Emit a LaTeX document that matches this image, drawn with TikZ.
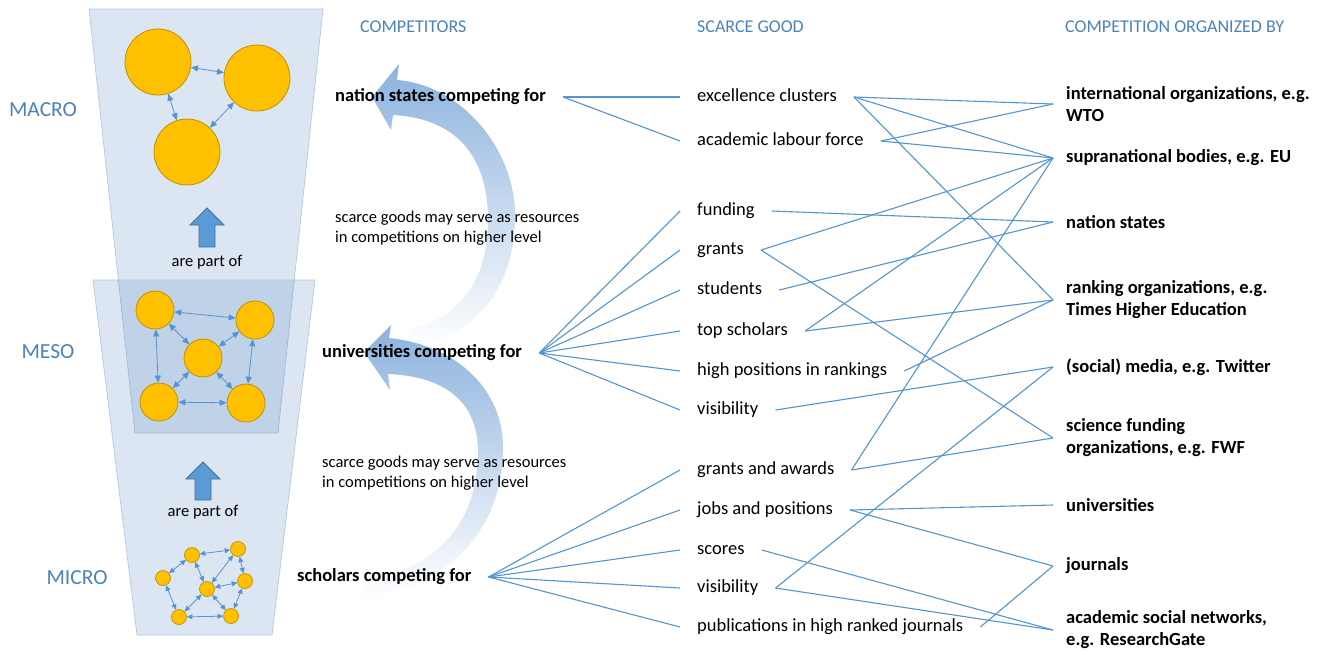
\documentclass[tikz,border=0pt]{standalone}
\usepackage{fontspec}
\setmainfont{Carlito}
\usetikzlibrary{shapes.geometric, arrows.meta}

\definecolor{linkblue}{RGB}{84,148,208}
\definecolor{headblue}{RGB}{75,130,185}
\definecolor{funnelblue}{RGB}{79,129,189}
\definecolor{funneledge}{RGB}{180,200,225}
\definecolor{dotfill}{RGB}{255,192,0}
\definecolor{dotedge}{RGB}{191,144,0}
\definecolor{arrowtop}{RGB}{140,178,222}
\definecolor{arrowmid}{RGB}{188,208,234}
\definecolor{partfill}{RGB}{91,155,213}
\definecolor{partedge}{RGB}{65,113,156}

\tikzstyle{heading} = [text=headblue, font=\fontsize{18}{22}\selectfont, anchor=west, inner sep=0pt]
\tikzstyle{level} = [text=headblue, font=\fontsize{21.5}{26}\selectfont, inner sep=0pt]
\tikzstyle{competitor} = [font=\bfseries\fontsize{18.5}{22}\selectfont, anchor=west, inner xsep=17pt, text height=12pt, text depth=3pt]
\tikzstyle{good} = [font=\fontsize{18.5}{22}\selectfont, anchor=west, inner xsep=17pt, text height=12pt, text depth=3pt]
\tikzstyle{organizer} = [font=\bfseries\fontsize{18.5}{22}\selectfont, anchor=west, inner xsep=13pt, align=left]
\tikzstyle{note} = [font=\fontsize{16.5}{20}\selectfont, anchor=west, align=left, inner sep=0pt]
\tikzstyle{partlabel} = [font=\fontsize{16.5}{20}\selectfont, inner sep=0pt]
\tikzstyle{link} = [draw=linkblue, line width=1.1pt]
\tikzstyle{funnel} = [fill=funnelblue, fill opacity=0.2, draw=funneledge, line width=0.7pt]
\tikzstyle{partof} = [fill=partfill, draw=partedge, line width=0.8pt]
\tikzstyle{lift} = [top color=arrowtop, middle color=arrowmid, bottom color=white, draw=none]
\tikzstyle{bigdot} = [circle, fill=dotfill, draw=dotedge, line width=0.8pt, minimum size=66pt, inner sep=0pt]
\tikzstyle{middot} = [circle, fill=dotfill, draw=dotedge, line width=0.8pt, minimum size=38pt, inner sep=0pt]
\tikzstyle{smalldot} = [circle, fill=dotfill, draw=dotedge, line width=0.7pt, minimum size=15pt, inner sep=0pt]
\tikzstyle{tie} = [draw=linkblue, line width=0.8pt, {Triangle[length=7pt,width=6pt]}-{Triangle[length=7pt,width=6pt]}]
\tikzstyle{smalltie} = [draw=linkblue, line width=0.8pt, {Triangle[length=5.5pt,width=5pt]}-{Triangle[length=5.5pt,width=5pt]}]

\begin{document}
\begin{tikzpicture}[x=1pt, y=-1pt]
	\useasboundingbox (0,0) rectangle (1329,651);

	\path [funnel] (89,9) -- (323,9) -- (278,433) -- (135,433) -- cycle;
	\path [funnel] (93,280) -- (315,280) -- (272,635) -- (137,635) -- cycle;

	\node (macro) [level] at (43,110) {MACRO};
	\node (meso) [level] at (48,352) {MESO};
	\node (micro) [level] at (77,578) {MICRO};

	\node (ma) [bigdot] at (158,62) {};
	\node (mb) [bigdot] at (257,78) {};
	\node (mc) [bigdot] at (187,152) {};
		\draw [tie] (ma) -- (mb);
		\draw [tie] (ma) -- (mc);
		\draw [tie] (mb) -- (mc);

	\node (m1) [middot] at (155,310) {};
	\node (m2) [middot] at (255,320) {};
	\node (m3) [middot] at (203,358) {};
	\node (m4) [middot] at (159,402) {};
	\node (m5) [middot] at (246,403) {};
		\draw [tie] (m1) -- (m2);
		\draw [tie] (m1) -- (m3);
		\draw [tie] (m1) -- (m4);
		\draw [tie] (m2) -- (m3);
		\draw [tie] (m2) -- (m5);
		\draw [tie] (m3) -- (m4);
		\draw [tie] (m3) -- (m5);
		\draw [tie] (m4) -- (m5);

	\node (sa) [smalldot] at (192,555) {};
	\node (sb) [smalldot] at (238,549) {};
	\node (sc) [smalldot] at (163,578) {};
	\node (sd) [smalldot] at (245,581) {};
	\node (se) [smalldot] at (207,589) {};
	\node (sf) [smalldot] at (179,617) {};
	\node (sg) [smalldot] at (231,616) {};
		\draw [smalltie] (sa) -- (sb);
		\draw [smalltie] (sa) -- (sc);
		\draw [smalltie] (sa) -- (se);
		\draw [smalltie] (sb) -- (sd);
		\draw [smalltie] (sb) -- (se);
		\draw [smalltie] (sd) -- (se);
		\draw [smalltie] (sc) -- (sf);
		\draw [smalltie] (se) -- (sf);
		\draw [smalltie] (se) -- (sg);
		\draw [smalltie] (sd) -- (sg);
		\draw [smalltie] (sf) -- (sg);

	\path [partof] (207,208) -- (224,225) -- (215,225) -- (215,247) -- (199,247) -- (199,225) -- (190,225) -- cycle;
	\node (part1) [partlabel] at (207,262) {are part of};
	\path [partof] (203,462) -- (220,479) -- (211,479) -- (211,500) -- (195,500) -- (195,479) -- (186,479) -- cycle;
	\node (part2) [partlabel] at (203,512) {are part of};

	\path [lift] (372,97) -- (399,64) -- (397,80) .. controls (462,85) and (515,150) .. (515,215) .. controls (515,292) and (472,340) .. (405,348) -- (410,329) .. controls (460,318) and (488,280) .. (488,220) .. controls (488,150) and (450,118) .. (393,115) -- (391,130) -- cycle;
	\path [lift] (364,352) -- (391,325) -- (389,338) .. controls (457,345) and (503,390) .. (503,447) .. controls (503,532) and (447,587) .. (360,599) -- (366,580) .. controls (440,568) and (478,520) .. (478,452) .. controls (478,398) and (440,376) .. (388,374) -- (390,390) -- cycle;

	\node (hcomp) [heading] at (360,27) {COMPETITORS};
	\node (hgood) [heading] at (697,27) {SCARCE GOOD};
	\node (horg) [heading] at (1065,27) {COMPETITION ORGANIZED BY};

	\node (note1) [note] at (335,228) {scarce goods may serve as resources\\in competitions on higher level};
	\node (note2) [note] at (322,473) {scarce goods may serve as resources\\in competitions on higher level};

	\node (nation) [competitor] at (318,97) {nation states competing for};
	\node (univ) [competitor] at (305,353) {universities competing for};
	\node (schol) [competitor] at (280,577) {scholars competing for};

	\node (excl) [good] at (680,97) {excellence clusters};
	\node (labour) [good] at (680,141) {academic labour force};
	\node (funding) [good] at (680,211) {funding};
	\node (grants) [good] at (680,250) {grants};
	\node (students) [good] at (680,290) {students};
	\node (topsch) [good] at (680,331) {top scholars};
	\node (highpos) [good] at (680,371) {high positions in rankings};
	\node (visA) [good] at (680,410) {visibility};
	\node (awards) [good] at (680,470) {grants and awards};
	\node (jobs) [good] at (680,510) {jobs and positions};
	\node (scores) [good] at (680,550) {scores};
	\node (visB) [good] at (680,588) {visibility};
	\node (pubs) [good] at (680,627) {publications in high ranked journals};

	\node (intorg) [organizer] at (1053,104) {international organizations, e.g.\\WTO};
	\node (supra) [organizer] at (1053,158) {supranational bodies, e.g. EU};
	\node (nstates) [organizer] at (1053,222) {nation states};
	\node (ranking) [organizer] at (1053,300) {ranking organizations, e.g.\\Times Higher Education};
	\node (media) [organizer] at (1053,367) {(social) media, e.g. Twitter};
	\node (scifund) [organizer] at (1053,438) {science funding\\organizations, e.g. FWF};
	\node (unis) [organizer] at (1053,505) {universities};
	\node (journals) [organizer] at (1053,566) {journals};
	\node (asn) [organizer] at (1053,630) {academic social networks,\\e.g. ResearchGate};

	\draw [link] (nation.east) -- (excl.west);
	\draw [link] (nation.east) -- (labour.west);
	\draw [link] (univ.east) -- (funding.west);
	\draw [link] (univ.east) -- (grants.west);
	\draw [link] (univ.east) -- (students.west);
	\draw [link] (univ.east) -- (topsch.west);
	\draw [link] (univ.east) -- (highpos.west);
	\draw [link] (univ.east) -- (visA.west);
	\draw [link] (schol.east) -- (awards.west);
	\draw [link] (schol.east) -- (jobs.west);
	\draw [link] (schol.east) -- (scores.west);
	\draw [link] (schol.east) -- (visB.west);
	\draw [link] (schol.east) -- (pubs.west);

	\draw [link] (excl.east) -- (intorg.west);
	\draw [link] (excl.east) -- (supra.west);
	\draw [link] (excl.east) -- (ranking.west);
	\draw [link] (labour.east) -- (intorg.west);
	\draw [link] (labour.east) -- (supra.west);
	\draw [link] (funding.east) -- (nstates.west);
	\draw [link] (grants.east) -- (supra.west);
	\draw [link] (grants.east) -- (scifund.west);
	\draw [link] (students.east) -- (nstates.west);
	\draw [link] (topsch.east) -- (supra.west);
	\draw [link] (topsch.east) -- (ranking.west);
	\draw [link] (highpos.east) -- (ranking.west);
	\draw [link] (visA.east) -- (media.west);
	\draw [link] (awards.east) -- (supra.west);
	\draw [link] (awards.east) -- (scifund.west);
	\draw [link] (jobs.east) -- (unis.west);
	\draw [link] (jobs.east) -- (journals.west);
	\draw [link] (scores.east) -- (asn.west);
	\draw [link] (visB.east) -- (media.west);
	\draw [link] (visB.east) -- (asn.west);
	\draw [link] (pubs.east) -- (journals.west);
\end{tikzpicture}
\end{document}
